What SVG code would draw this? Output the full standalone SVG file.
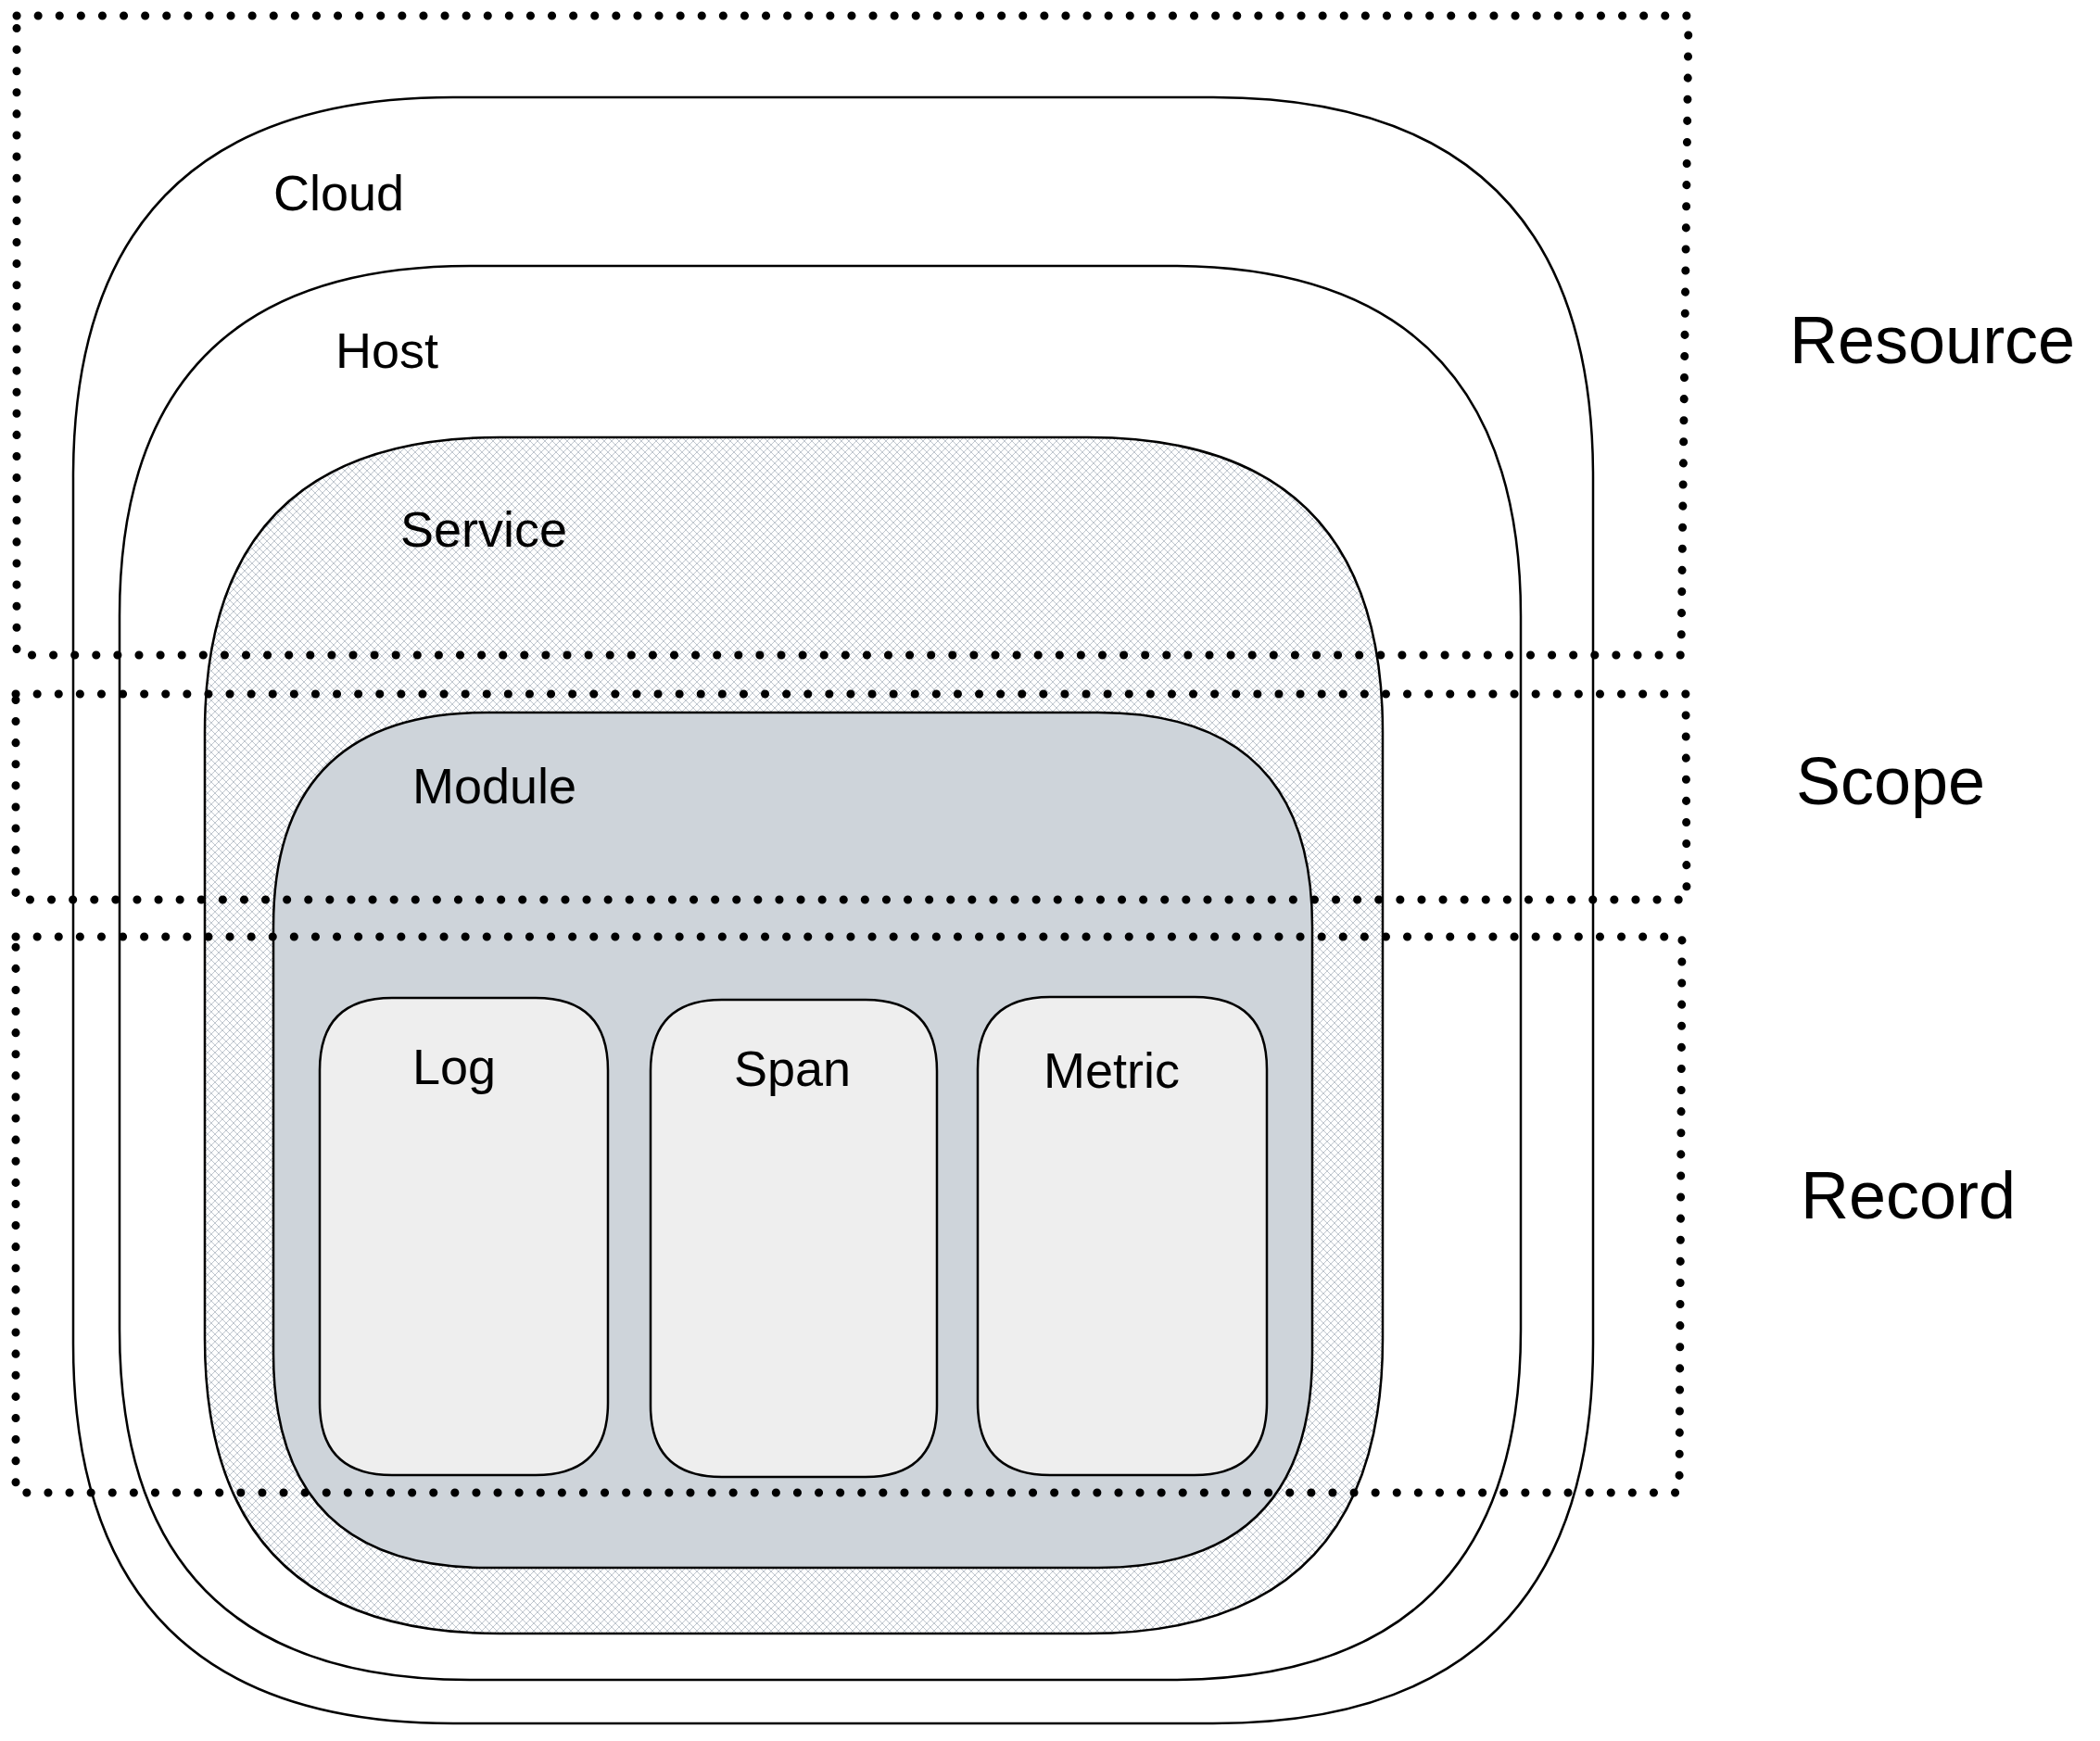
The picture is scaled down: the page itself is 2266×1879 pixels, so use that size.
<svg xmlns="http://www.w3.org/2000/svg" width="2266" height="1879" viewBox="0 0 2266 1879">
<defs>
<pattern id="hatch" patternUnits="userSpaceOnUse" width="8" height="8">
<path d="M0 0 L8 8 M-2 6 L2 10 M6 -2 L10 2 M0 8 L8 0 M-2 2 L2 -2 M6 10 L10 6" stroke="#bfc6ce" stroke-width="1"/>
</pattern>
<style>
.box{stroke:#000;stroke-width:2.5;stroke-linejoin:round}
.lbl{font-family:"Liberation Sans",Arial,sans-serif;font-size:54px;fill:#000}
.big{font-family:"Liberation Sans",Arial,sans-serif;font-size:72px;fill:#000}
.dot{fill:none;stroke:#000;stroke-width:9;stroke-linecap:round;stroke-dasharray:0.1 23}
</style>
</defs>
<rect width="2266" height="1879" fill="#fff"/>
<g id="cloud">
<path class="box" fill="none" d="M489 105 L1309 105 Q1719 105 1719 515 L1719 1450 Q1719 1860 1309 1860 L489 1860 Q79 1860 79 1450 L79 515 Q79 105 489 105 Z"/>
<text class="lbl" x="295" y="227">Cloud</text>
</g>
<g id="host">
<path class="box" fill="none" d="M507 287 L1263 287 Q1641 287 1641 665 L1641 1435 Q1641 1813 1263 1813 L507 1813 Q129 1813 129 1435 L129 665 Q129 287 507 287 Z"/>
<text class="lbl" x="362" y="397">Host</text>
</g>
<g id="service">
<path class="box" fill="url(#hatch)" d="M539 472 L1174 472 Q1492 472 1492 790 L1492 1445 Q1492 1763 1174 1763 L539 1763 Q221 1763 221 1445 L221 790 Q221 472 539 472 Z"/>
<text class="lbl" x="432" y="590">Service</text>
</g>
<g id="module">
<path class="box" fill="#ced4da" d="M526 769 L1185 769 Q1416 769 1416 1000 L1416 1461 Q1416 1692 1185 1692 L526 1692 Q295 1692 295 1461 L295 1000 Q295 769 526 769 Z"/>
<text class="lbl" x="445" y="867">Module</text>
</g>
<g id="log">
<path class="box" fill="#eeeeee" d="M423 1077 L578 1077 Q656 1077 656 1155 L656 1514 Q656 1592 578 1592 L423 1592 Q345 1592 345 1514 L345 1155 Q345 1077 423 1077 Z"/>
<text class="lbl" x="445" y="1170">Log</text>
</g>
<g id="span">
<path class="box" fill="#eeeeee" d="M779 1079 L934 1079 Q1011 1079 1011 1156 L1011 1517 Q1011 1594 934 1594 L779 1594 Q702 1594 702 1517 L702 1156 Q702 1079 779 1079 Z"/>
<text class="lbl" x="792" y="1172">Span</text>
</g>
<g id="metric">
<path class="box" fill="#eeeeee" d="M1133 1076 L1289 1076 Q1367 1076 1367 1154 L1367 1514 Q1367 1592 1289 1592 L1133 1592 Q1055 1592 1055 1514 L1055 1154 Q1055 1076 1133 1076 Z"/>
<text class="lbl" x="1126" y="1174">Metric</text>
</g>
<g id="resource">
<path class="dot" d="M18 17 L1822 17 L1814 707 L18 707 Z"/>
<text class="big" x="1931" y="392">Resource</text>
</g>
<g id="scope">
<path class="dot" d="M17 749 L1819 749 L1820 971 L17 971 Z"/>
<text class="big" x="1938" y="868">Scope</text>
</g>
<g id="record">
<path class="dot" d="M17 1011 L1815 1011 L1812 1611 L17 1611 Z"/>
<text class="big" x="1943" y="1315">Record</text>
</g>
<g id="connectors"></g>
</svg>
